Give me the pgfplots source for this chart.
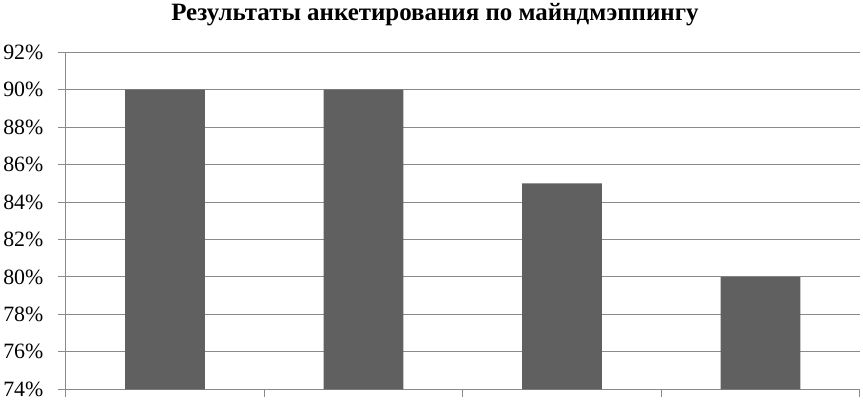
\documentclass[border=0pt]{standalone}
\usepackage{pgfplots}
\pgfplotsset{compat=1.18}
\usepackage{fontspec}
\setmainfont{Liberation Serif}
\definecolor{barc}{HTML}{606060}
\definecolor{gridc}{HTML}{8A8A8A}
\begin{document}
\begin{tikzpicture}
\begin{axis}[
  scale only axis,
  width=796bp, height=338bp,
  xmin=-0.5, xmax=3.5,
  ymin=74, ymax=92,
  axis x line=bottom, axis y line=left,
  axis line style={-, draw=gridc, line width=1bp},
  xtick={-0.5,0.5,1.5,2.5,3.5},
  xticklabels={},
  ytick={74,76,...,92},
  yticklabels={74\%,76\%,78\%,80\%,82\%,84\%,86\%,88\%,90\%,92\%},
  tick align=outside,
  major tick length=8bp,
  tick style={draw=gridc, line width=1bp},
  ymajorgrids,
  grid style={draw=gridc, line width=1bp},
  yticklabel style={font=\fontsize{22}{22}\selectfont, xshift=-11bp},
  title={\bfseries Результаты анкетирования по майндмэппингу},
  title style={at={(rel axis cs:0.465,1.094)}, anchor=center, font=\fontsize{25.1}{25.1}\selectfont},
  clip=false,
]
\addplot[ybar, bar width=0.402, fill=barc, draw=none] coordinates {(0,90) (1,90) (2,85) (3,80)};
\end{axis}
\end{tikzpicture}
\end{document}
